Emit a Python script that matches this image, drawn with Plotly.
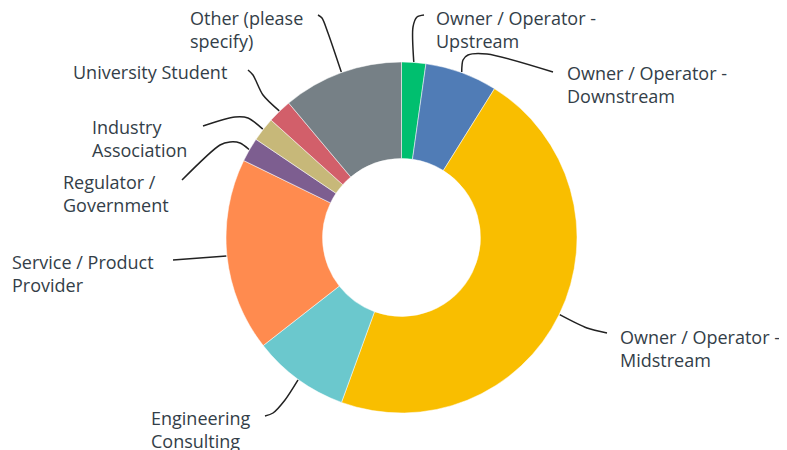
import math
import plotly.graph_objects as go

# ---- data ----
categories = [
    "Owner / Operator - Upstream",
    "Owner / Operator - Downstream",
    "Owner / Operator - Midstream",
    "Engineering Consulting",
    "Service / Product Provider",
    "Regulator / Government",
    "Industry Association",
    "University Student",
    "Other (please specify)",
]
counts = [1, 3, 21, 4, 8, 1, 1, 1, 5]
label_lines = [
    ["Owner / Operator -", "Upstream"],
    ["Owner / Operator -", "Downstream"],
    ["Owner / Operator -", "Midstream"],
    ["Engineering", "Consulting"],
    ["Service / Product", "Provider"],
    ["Regulator /", "Government"],
    ["Industry", "Association"],
    ["University Student"],
    ["Other (please", "specify)"],
]

# ---- style / layout ----
colors = ["#00BF6F", "#507CB6", "#F9BE00", "#6BC8CD", "#FF8B4F",
          "#7D5E90", "#C7B879", "#D25F6A", "#768086"]
OFF = 8                      # page body margin
W, H = 787 - OFF, 450 - OFF  # figure size
CX, CY, R = 401.5, 237.5, 175.5   # page pixel coordinates
HOLE = 0.45
FONT = "Open Sans"
FSIZE = 18
TXT = "#333E48"
LINE_H = 23
# text left x, first-line center y, leader-line waypoints (page pixels)
label_pos = [
    (436, 18, [(413, 27), (417, 17), (424, 15)]),
    (567, 73, [(463, 60), (468, 55), (487, 54), (553, 72)]),
    (620, 337, [(587, 328), (607, 333)]),
    (151, 418, [(285, 400), (273, 413), (265, 416)]),
    (12, 262, [(173, 260)]),
    (63, 182, [(240, 143), (230, 142), (220, 145), (182, 180)]),
    (92, 127, [(248, 118), (235, 117), (203, 126)]),
    (73, 72, [(263, 95), (253, 75), (248, 70)]),
    (190, 18, [(328, 33), (322, 18), (318, 15)]),
]

fig = go.Figure()

cx, cy = CX - OFF, CY - OFF
fig.add_trace(go.Pie(
    labels=categories, values=counts, sort=False, direction="clockwise",
    rotation=0, hole=HOLE, textinfo="none", hoverinfo="label+percent",
    marker=dict(colors=colors, line=dict(color="white", width=0.5)),
    domain=dict(x=[(cx - R) / W, (cx + R) / W], y=[1 - (cy + R) / H, 1 - (cy - R) / H]),
    showlegend=False,
))

total = sum(counts)
cum = 0
annotations = []
for i, c in enumerate(counts):
    mid = (cum + c / 2) / total * 2 * math.pi
    cum += c
    ax_ = cx + (R + 0.5) * math.sin(mid)
    ay_ = cy - (R + 0.5) * math.cos(mid)
    tx, ty, pts = label_pos[i]
    xs = [ax_] + [p[0] - OFF for p in pts]
    ys = [ay_] + [p[1] - OFF for p in pts]
    fig.add_trace(go.Scatter(
        x=xs, y=ys, mode="lines",
        line=dict(color="#222222", width=1.5, shape="spline", smoothing=0.8),
        hoverinfo="skip", showlegend=False,
    ))
    for j, t in enumerate(label_lines[i]):
        annotations.append(dict(
            x=tx - OFF, y=ty - OFF + j * LINE_H, xref="x", yref="y", text=t, showarrow=False,
            xanchor="left", yanchor="middle", xshift=-2,
            font=dict(family=FONT, size=FSIZE, color=TXT),
        ))

fig.update_layout(
    width=W, height=H, margin=dict(l=0, r=0, t=0, b=0),
    paper_bgcolor="white", plot_bgcolor="rgba(0,0,0,0)",
    xaxis=dict(range=[0, W], visible=False, fixedrange=True),
    yaxis=dict(range=[H, 0], visible=False, fixedrange=True),
    annotations=annotations,
)

fig.write_html("out.html")
